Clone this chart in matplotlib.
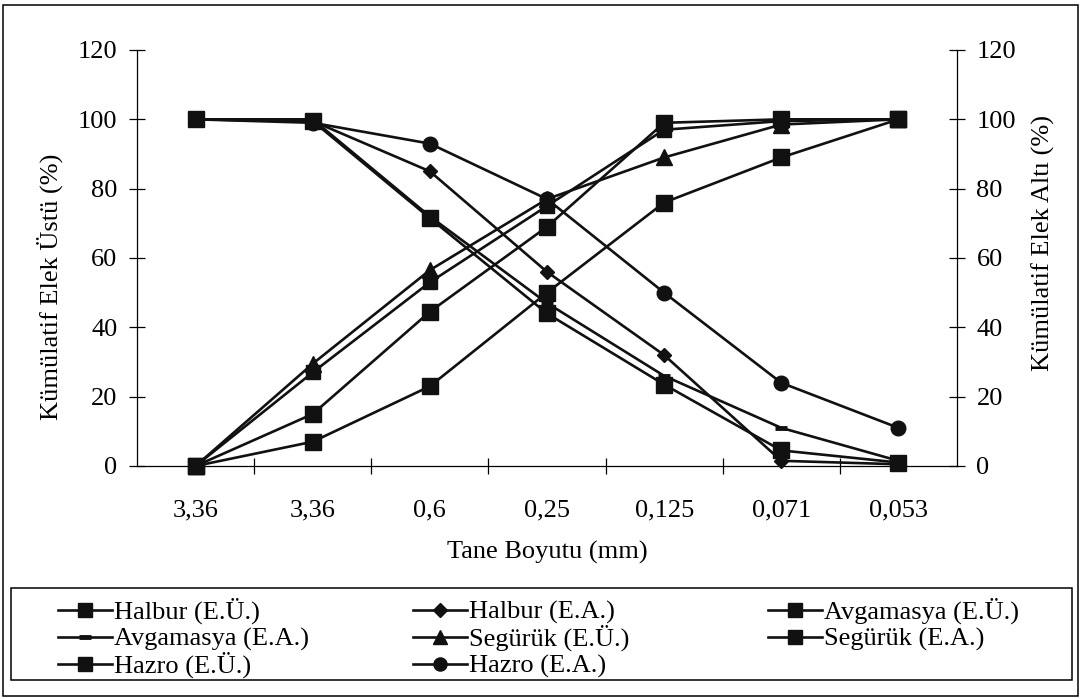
import matplotlib
matplotlib.use("Agg")
import matplotlib.pyplot as plt
import numpy as np
from matplotlib.patches import Rectangle
from matplotlib.lines import Line2D

plt.rcParams['font.family'] = ['Liberation Serif', 'DejaVu Serif']

# Data
sizes = ['3,36', '3,36', '0,6', '0,25', '0,125', '0,071', '0,053']
halbur_eu = [0, 15, 44.5, 69, 99, 100, 100]
halbur_ea = [100, 99.5, 85, 56, 32, 1.5, 0.5]
avg_eu = [0, 27, 53, 75, 97, 99.5, 100]
avg_ea = [100, 100, 72, 47, 26, 11, 1.5]
seg_eu = [0, 29.5, 56.5, 77, 89, 98.5, 100]
seg_ea = [100, 99.5, 71.5, 44, 23.5, 4.5, 1]
hazro_eu = [0, 7, 23, 50, 76, 89, 100]
hazro_ea = [100, 99, 93, 77, 50, 24, 11]

W, H = 1081, 699
fs = 19

fig = plt.figure(figsize=(W / 100, H / 100), dpi=100)
ax = fig.add_axes([137 / W, 1 - 466 / H, 820 / W, 416 / H])

x = np.arange(len(sizes))
lw = 1.9
style = dict(color='#111111', lw=lw, clip_on=False, zorder=3)

l1, = ax.plot(x, halbur_eu, marker='s', ms=11, label='Halbur (E.Ü.)', **style)
l2, = ax.plot(x, halbur_ea, marker='D', ms=7.5, label='Halbur (E.A.)', **style)
l3, = ax.plot(x, avg_eu, marker='s', ms=10.5, label='Avgamasya (E.Ü.)', **style)
l4, = ax.plot(x, avg_ea, marker='_', ms=9, mew=3.5, label='Avgamasya (E.A.)', **style)
l5, = ax.plot(x, seg_eu, marker='^', ms=11.5, label='Segürük (E.Ü.)', **style)
l6, = ax.plot(x, seg_ea, marker='s', ms=11, label='Segürük (E.A.)', **style)
l7, = ax.plot(x, hazro_eu, marker='s', ms=11, label='Hazro (E.Ü.)', **style)
l8, = ax.plot(x, hazro_ea, marker='o', ms=10.5, label='Hazro (E.A.)', **style)

ax.set_xlim(-0.5, len(sizes) - 0.5)
ax.set_ylim(0, 120)
ax.set_yticks(np.arange(0, 121, 20))
ax.set_xticks(x)
ax.set_xticklabels(sizes)
ax.set_xticks(np.arange(0.5, len(sizes) - 1, 1), minor=True)

for s in ['left', 'right', 'bottom']:
    ax.spines[s].set_linewidth(0.9)
ax.spines['top'].set_visible(False)

ax.tick_params(axis='y', direction='inout', length=12, width=0.9, pad=8,
               left=True, right=True, labelleft=True, labelright=True, labelsize=fs)
ax.tick_params(axis='x', which='major', length=0, pad=24, labelsize=fs)
ax.tick_params(axis='x', which='minor', direction='inout', length=11, width=0.9)

ax.set_xlabel('Tane Boyutu (mm)', fontsize=fs)
ax.xaxis.set_label_coords(0.5, -0.209)
ax.xaxis.label.set_va('center')
ax.set_ylabel('Kümülatif Elek Üstü (%)', fontsize=fs)
ax.yaxis.set_label_coords(-0.106, 0.43)
ax.yaxis.label.set_va('center')
ax.text(1.105, 0.536, 'Kümülatif Elek Altı (%)', transform=ax.transAxes,
        rotation=90, ha='center', va='center', fontsize=fs)

# legend laid out like the original: three fixed columns, rows filled left to right
entries = [l1, l2, l3, l4, l5, l6, l7, l8]
col_x = [58, 413, 768]
row_y = [610, 637, 664]
hl = 54
for i, ln in enumerate(entries):
    x0 = col_x[i % 3]
    yc = row_y[i // 3]
    y0 = 1 - yc / H
    fig.add_artist(Line2D([x0 / W, (x0 + hl) / W], [y0, y0], transform=fig.transFigure,
                          color=ln.get_color(), lw=lw))
    fig.add_artist(Line2D([(x0 + hl / 2) / W], [y0], transform=fig.transFigure,
                          color=ln.get_color(), marker=ln.get_marker(),
                          ms=ln.get_markersize() * 0.9, mew=ln.get_markeredgewidth()))
    fig.text((x0 + hl + 2) / W, 1 - (yc + 9) / H, ln.get_label(), fontsize=fs,
             ha='left', va='baseline')

fig.patches.append(Rectangle((11 / W, 1 - 680 / H), 1061 / W, 92 / H,
                             transform=fig.transFigure, fill=False,
                             ec='black', lw=1.1))
fig.patches.append(Rectangle((3 / W, 1 - 696 / H), 1075 / W, 691 / H,
                             transform=fig.transFigure, fill=False,
                             ec='black', lw=1.1))

fig.savefig('out.png', dpi=100)
